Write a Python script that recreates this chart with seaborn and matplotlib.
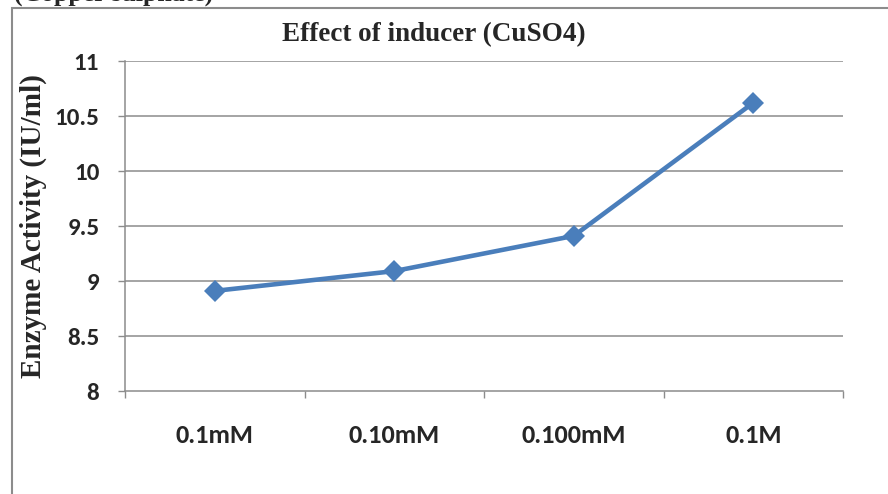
import matplotlib
matplotlib.use("Agg")
import matplotlib.pyplot as plt
import seaborn as sns
import pandas as pd
from matplotlib.patches import Rectangle
from matplotlib.font_manager import FontProperties

categories = ["0.1mM", "0.10mM", "0.100mM", "0.1M"]
activity = [8.91, 9.09, 9.41, 10.62]
y_ticks = [8, 8.5, 9, 9.5, 10, 10.5, 11]
y_tick_labels = ["8", "8.5", "9", "9.5", "10", "10.5", "11"]

sns.set_theme(style="white")
plt.rcParams['font.family'] = ['DejaVu Sans']

sans_b = lambda s: FontProperties(family=["Carlito", "Lato", "DejaVu Sans"], weight="bold", size=s)
serif_b = lambda s: FontProperties(family=["Liberation Serif", "DejaVu Serif"], weight="bold", size=s)

df = pd.DataFrame({"pos": range(len(categories)), "activity": activity})

fig = plt.figure(figsize=(8.88, 4.94), dpi=100)
ax = fig.add_axes([125/888, 1-391/494, (843-125)/888, (391-61)/494])

grid_c = "#8c8c8c"
for v in y_ticks[1:]:
    ax.axhline(v, color=grid_c, lw=1.1, zorder=0)

sns.lineplot(data=df, x="pos", y="activity", ax=ax, color="#4A7EBB",
             linewidth=3.3, marker="D", markersize=11, markeredgewidth=0,
             zorder=3)

ax.set_xlim(-0.5, len(categories) - 0.5)
ax.set_ylim(8, 11)
ax.set_xticks([i - 0.5 for i in range(len(categories) + 1)])
ax.set_xticklabels([])
ax.set_xticks(list(range(len(categories))), minor=True)
ax.set_xticklabels(categories, minor=True, fontproperties=sans_b(19))
ax.tick_params(axis="x", which="minor", length=0, pad=24)
ax.tick_params(axis="x", which="major", length=5, width=1, color=grid_c,
               direction="out", bottom=True)
ax.set_yticks(y_ticks)
ax.set_yticklabels(y_tick_labels, fontproperties=sans_b(18))
ax.tick_params(axis="y", length=5, width=1, color=grid_c, direction="out",
               pad=13.5, left=True)

for s in ["top", "right"]:
    ax.spines[s].set_visible(False)
for s in ["left", "bottom"]:
    ax.spines[s].set_color(grid_c)
    ax.spines[s].set_linewidth(1.1)

ax.set_xlabel("")
ax.set_ylabel("Enzyme Activity (IU/ml)", fontproperties=serif_b(21))
ax.yaxis.set_label_coords(-78/718, 0.5)

fig.text(434/888, 1-35/494, "Effect of inducer (CuSO4)", ha="center", va="center",
         fontproperties=serif_b(19.5))

# outer frame of the chart area (partially clipped)
fig.patches.append(Rectangle((12/888, -0.05), 1.0, 1 - 8/494 + 0.05,
                             transform=fig.transFigure, fill=False,
                             edgecolor="#8c8c8c", linewidth=1.5))

fig.text(14/888, 1 - 0.5/494, "(Copper sulphate)", ha="left", va="baseline",
         fontproperties=serif_b(18.5))

fig.savefig("out.png", dpi=100)
